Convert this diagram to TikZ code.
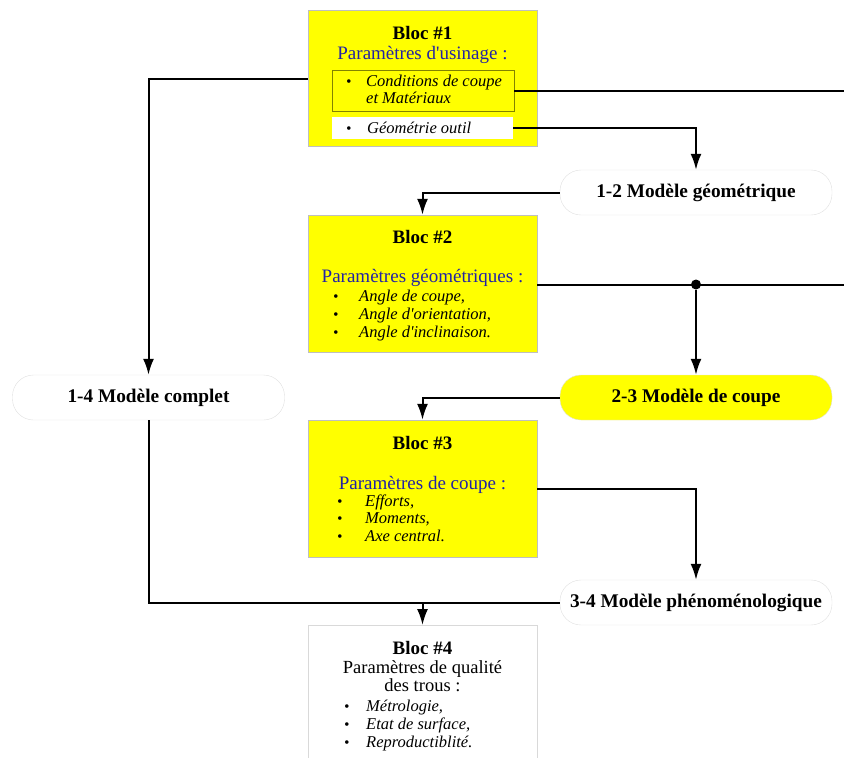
\documentclass[tikz,border=0pt]{standalone}
\usepackage{fontspec}
\setmainfont{Liberation Serif}
\usetikzlibrary{arrows.meta}
\definecolor{bleutitre}{RGB}{35,35,165}
\definecolor{jaune}{RGB}{255,255,0}
\definecolor{olive}{RGB}{130,130,0}
\newcommand{\puce}{{\fontsize{15}{12}\selectfont\textbullet}}
\newcommand{\apos}{\textquotesingle}

\begin{document}
\begin{tikzpicture}[x=1pt,y=-1pt,>={Latex[length=16pt,width=11pt]},
  bloc/.style={draw=black!25,fill=jaune,minimum width=229pt,inner sep=0pt},
  modele/.style={draw=black!12,fill=white,rounded corners=21pt,minimum width=272pt,
    minimum height=45pt,font=\fontsize{19.3}{22}\selectfont\bfseries},
  titre/.style={font=\fontsize{19}{22}\selectfont\bfseries},
  entete/.style={font=\fontsize{19}{22}\selectfont,text=bleutitre},
  liste/.style={anchor=west,inner sep=0pt},
  lien/.style={line width=2pt}]
\useasboundingbox (0,0) rectangle (844,758);

% Bloc #1
\node[bloc,minimum height=136pt] (bloc1) at (422.5,78.5) {};
\node[titre] (bloc1titre) at (422.5,33) {Bloc \#1};
\node[entete] (bloc1entete) at (422.5,55) {Paramètres d\apos usinage :};
\node[draw=olive,line width=0.8pt,minimum width=182pt,minimum height=41pt,inner sep=0pt] (cond) at (423,90.5) {};
\node[liste,font=\fontsize{16.5}{17}\selectfont\itshape] (condtxt) at (346,91.5)
  {\begin{tabular}{@{}l@{}}\makebox[20pt][l]{\puce}Conditions de coupe\\\hspace*{20pt}et Matériaux\end{tabular}};
\node[fill=white,minimum width=181pt,minimum height=22pt,inner sep=0pt] (geom) at (422.5,128) {};
\node[liste,font=\fontsize{16.5}{17}\selectfont\itshape] (geomtxt) at (346,128)
  {\makebox[21pt][l]{\puce}Géométrie outil};

% modeles
\node[modele] (m12) at (696,192.5) {1-2 Modèle géométrique};
\node[modele] (m14) at (148.5,397.5) {1-4 Modèle complet};
\node[modele,fill=jaune] (m23) at (696,397.5) {2-3 Modèle de coupe};
\node[modele] (m34) at (696,602.5) {3-4 Modèle phénoménologique};

% Bloc #2
\node[bloc,minimum height=137pt] (bloc2) at (422.5,283.5) {};
\node[titre] (bloc2titre) at (422.5,237) {Bloc \#2};
\node[entete] (bloc2entete) at (422.5,278) {Paramètres géométriques :};
\node[liste,font=\fontsize{16.5}{18}\selectfont\itshape] (bloc2txt) at (333,316)
  {\begin{tabular}{@{}l@{}}\makebox[26pt][l]{\puce}Angle de coupe,\\\makebox[26pt][l]{\puce}Angle d\apos orientation,\\\makebox[26pt][l]{\puce}Angle d\apos inclinaison.\end{tabular}};

% Bloc #3
\node[bloc,minimum height=137pt] (bloc3) at (422.5,488.5) {};
\node[titre] (bloc3titre) at (422.5,443) {Bloc \#3};
\node[entete] (bloc3entete) at (422.5,485) {Paramètres de coupe :};
\node[liste,font=\fontsize{16.5}{17.5}\selectfont\itshape] (bloc3txt) at (337,520)
  {\begin{tabular}{@{}l@{}}\makebox[28pt][l]{\puce}Efforts,\\\makebox[28pt][l]{\puce}Moments,\\\makebox[28pt][l]{\puce}Axe central.\end{tabular}};

% Bloc #4
\node[draw=black!15,fill=white,minimum width=229pt,minimum height=145pt,inner sep=0pt,anchor=north] (bloc4) at (422.5,625) {};
\node[titre] (bloc4titre) at (422.5,648) {Bloc \#4};
\node[font=\fontsize{18.5}{18}\selectfont,align=center] (bloc4entete) at (422.5,676) {Paramètres de qualité\\des trous :};
\node[liste,font=\fontsize{16.5}{18}\selectfont\itshape] (bloc4txt) at (344,725.5)
  {\begin{tabular}{@{}l@{}}\makebox[22pt][l]{\puce}Métrologie,\\\makebox[22pt][l]{\puce}Etat de surface,\\\makebox[22pt][l]{\puce}Reproductiblité.\end{tabular}};

% liaisons
\coordinate (sortie1) at (846,90.5);
\coordinate (sortie2) at (846,284.5);
\node[circle,fill,inner sep=0pt,minimum size=10pt] (noeud) at (m23 |- sortie2) {};
\draw[lien,->] (bloc1.west) -| (m14.north);
\draw[lien] (cond.east) -- (sortie1);
\draw[lien,->] (geom.east) -| (m12.north);
\draw[lien,->] (m12.west) -| (bloc2.north);
\draw[lien] (bloc2.east |- sortie2) -- (sortie2);
\draw[lien,->] (noeud) -- (m23.north);
\draw[lien,->] (m23.west) -| (bloc3.north);
\draw[lien,->] (bloc3.east) -| (m34.north);
\draw[lien] (m34.west) -| (m14.south);
\draw[lien,->] (m34.west -| bloc4.north) -- (bloc4.north);
\end{tikzpicture}
\end{document}
